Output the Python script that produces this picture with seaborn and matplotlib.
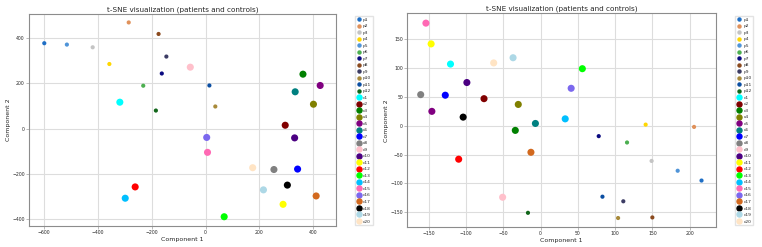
import numpy as np
import pandas as pd
import matplotlib
matplotlib.use("Agg")
import matplotlib.pyplot as plt
from matplotlib.lines import Line2D
import seaborn as sns

patients = ["p1", "p2", "p3", "p4", "p5", "p6", "p7", "p8", "p9", "p10", "p11", "p12"]
controls = ["c%d" % i for i in range(1, 21)]

p_colors = ["#1f6fc5", "#e0915a", "#c4c4c4", "#ffd700", "#4f94d8", "#4caf50",
            "#0a0a80", "#8b4a1e", "#3c3c64", "#a88a3a", "#0b4ea2", "#11661a"]
c_colors = ["cyan", "maroon", "green", "olive", "purple", "teal", "blue", "grey",
            "pink", "indigo", "yellow", "red", "lime", "deepskyblue", "hotpink",
            "mediumslateblue", "chocolate", "black", "lightblue", "bisque"]

# left panel
p_x1 = [-600, -286, -420, -358, -516, -232, -163, -175, -146, 36, 14, -185]
p_y1 = [378, 470, 360, 286, 372, 190, 244, 419, 319, 98, 191, 80]
c_x1 = [-319, 296, 362, 401, 426, 333, 342, 254, -57, 331,
        288, -262, 69, -299, 7, 4, 411, 304, 215, 175]
c_y1 = [117, 15, 241, 108, 191, 163, -179, -181, 272, -41,
        -335, -258, -390, -308, -105, -39, -298, -250, -271, -173]

# right panel
p_x2 = [216, 206, 149, 141, 184, 116, 78, 150, 111, 104, 83, -17]
p_y2 = [-95, -2, -61, 2, -78, -29, -18, -159, -131, -160, -123, -151]
c_x2 = [-121, -76, -34, -30, -146, -7, -128, -161, -51, -99,
        -147, -110, 56, 33, -154, 41, -13, -104, -37, -63]
c_y2 = [107, 47, -8, 37, 25, 4, 53, 54, -124, 75,
        142, -58, 99, 12, 178, 65, -46, 15, 118, 109]

palette = dict(zip(patients + controls, p_colors + c_colors))

sns.set_style("whitegrid")
plt.rcParams['font.family'] = ['DejaVu Sans']

fig = plt.figure(figsize=(7.62, 2.47), dpi=100)
ax1 = fig.add_axes([0.038, 0.085, 0.403, 0.858])
ax2 = fig.add_axes([0.5345, 0.080, 0.4047, 0.866])

handles = [Line2D([], [], marker='o', ls='', color=palette[n], markersize=2.2) for n in patients]
handles += [Line2D([], [], marker='o', ls='', color=palette[n], markersize=3.6) for n in controls]
labels = patients + controls

panels = [(ax1, p_x1, p_y1, c_x1, c_y1, 0.4625), (ax2, p_x2, p_y2, c_x2, c_y2, 0.962)]
for ax, px, py, cx, cy, lx in panels:
    dp = pd.DataFrame({"x": px, "y": py, "label": patients})
    dc = pd.DataFrame({"x": cx, "y": cy, "label": controls})
    sns.scatterplot(data=dp, x="x", y="y", hue="label", palette=palette, s=9,
                    linewidth=0, legend=False, ax=ax)
    sns.scatterplot(data=dc, x="x", y="y", hue="label", palette=palette, s=26,
                    linewidth=0, legend=False, ax=ax)
    ax.set_title("t-SNE visualization (patients and controls)", fontsize=5.2, pad=2)
    ax.set_xlabel("Component 1", fontsize=4.5, labelpad=1)
    ax.set_ylabel("Component 2", fontsize=4.5, labelpad=1)
    ax.tick_params(labelsize=3.3, pad=1, length=2, width=0.4, left=True, bottom=True, color='#888888')
    for sp in ax.spines.values():
        sp.set_color('#8c8c8c')
        sp.set_linewidth(0.8)
    ax.grid(color='#dddddd', linewidth=0.8)
    fig.legend(handles, labels, loc='upper left', bbox_to_anchor=(lx, 0.945),
               fontsize=3.2, labelspacing=0.54, handletextpad=0.4, handlelength=1.0,
               borderpad=0.4, frameon=True, fancybox=False, edgecolor='#dddddd')

ax1.set_xlim(-657, 485)
ax1.set_ylim(-431, 507)
ax1.set_xticks([-600, -400, -200, 0, 200, 400])
ax1.set_yticks([-400, -200, 0, 200, 400])
ax2.set_xlim(-179, 235)
ax2.set_ylim(-176, 195)
ax2.set_xticks([-150, -100, -50, 0, 50, 100, 150, 200])
ax2.set_yticks([-150, -100, -50, 0, 50, 100, 150])

fig.savefig("out.png", dpi=100)
